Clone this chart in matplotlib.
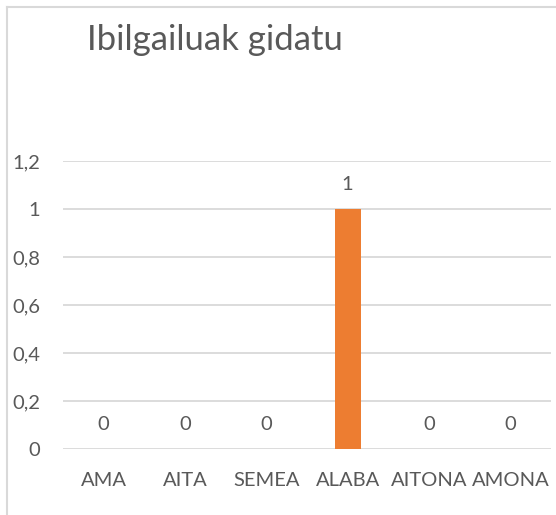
import matplotlib.pyplot as plt
from matplotlib.lines import Line2D
from matplotlib.ticker import FuncFormatter

categories = ["AMA", "AITA", "SEMEA", "ALABA", "AITONA", "AMONA"]
values = [0, 0, 0, 1, 0, 0]
yticks = [0, 0.2, 0.4, 0.6, 0.8, 1.0, 1.2]

plt.rcParams['font.family'] = ['Lato', 'DejaVu Sans']
TXT = "#595959"
GRID = "#D9D9D9"

fig = plt.figure(figsize=(5.56, 5.15), dpi=100)
ax = fig.add_axes([63 / 556, 1 - 449 / 515, 488 / 556, 288 / 515])

x = range(len(categories))
ax.bar(x, values, width=0.32, color="#ED7D31", zorder=3)
for xi, v in zip(x, values):
    ax.text(xi, v + 0.1, f"{v:g}", ha="center", va="center",
            fontsize=14.5, color=TXT)

ax.set_xlim(-0.5, len(categories) - 0.5)
ax.set_ylim(0, 1.2)
ax.set_yticks(yticks)
ax.yaxis.set_major_formatter(FuncFormatter(lambda v, p: f"{v:g}".replace(".", ",")))
ax.set_xticks(list(x))
ax.set_xticklabels(categories)
ax.tick_params(axis="both", length=0, labelsize=14.5, colors=TXT)
ax.tick_params(axis="x", pad=16.5)
ax.tick_params(axis="y", pad=16.5)
ax.yaxis.grid(True, color=GRID, linewidth=1.3, zorder=0)
for s in ax.spines.values():
    s.set_visible(False)

fig.text(215 / 556, 1 - 40 / 515, "Ibilgailuak gidatu", ha="center",
         va="center", fontsize=25, color=TXT)

# chart frame (left and top edges visible)
fig.add_artist(Line2D([6.5 / 556, 6.5 / 556], [0, 1 - 6.5 / 515],
                      transform=fig.transFigure, color=GRID, linewidth=1.5))
fig.add_artist(Line2D([6.5 / 556, 1], [1 - 6.5 / 515, 1 - 6.5 / 515],
                      transform=fig.transFigure, color=GRID, linewidth=1.5))

fig.savefig("out.png", dpi=100)
